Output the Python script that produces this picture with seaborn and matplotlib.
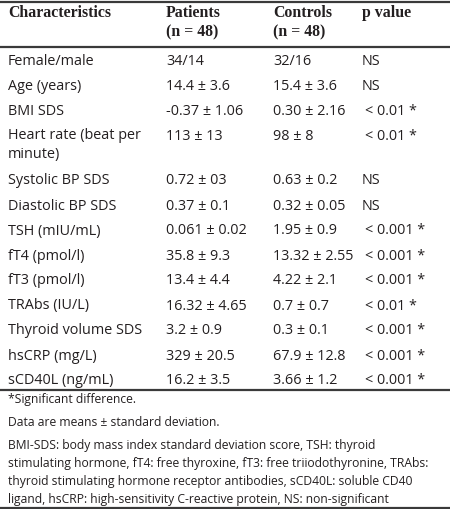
import matplotlib
matplotlib.use("Agg")
import seaborn as sns
from matplotlib import pyplot as plt

# table content
header = ["Characteristics", "Patients", "Controls", "p value"]
header_sub = ["", "(n = 48)", "(n = 48)", ""]
characteristics = ["Female/male", "Age (years)", "BMI SDS", "Heart rate (beat per\nminute)",
                   "Systolic BP SDS", "Diastolic BP SDS", "TSH (mIU/mL)", "fT4 (pmol/l)",
                   "fT3 (pmol/l)", "TRAbs (IU/L)", "Thyroid volume SDS", "hsCRP (mg/L)",
                   "sCD40L (ng/mL)"]
patients = ["34/14", "14.4 ± 3.6", "-0.37 ± 1.06", "113 ± 13", "0.72 ± 03", "0.37 ± 0.1",
            "0.061 ± 0.02", "35.8 ± 9.3", "13.4 ± 4.4", "16.32 ± 4.65", "3.2 ± 0.9",
            "329 ± 20.5", "16.2 ± 3.5"]
controls = ["32/16", "15.4 ± 3.6", "0.30 ± 2.16", "98 ± 8", "0.63 ± 0.2", "0.32 ± 0.05",
            "1.95 ± 0.9", "13.32 ± 2.55", "4.22 ± 2.1", "0.7 ± 0.7", "0.3 ± 0.1",
            "67.9 ± 12.8", "3.66 ± 1.2"]
p_values = ["NS", "NS", "< 0.01 *", "< 0.01 *", "NS", "NS", "< 0.001 *", "< 0.001 *",
            "< 0.001 *", "< 0.01 *", "< 0.001 *", "< 0.001 *", "< 0.001 *"]
footnotes = ["*Significant difference.",
             "Data are means ± standard deviation.",
             "BMI-SDS: body mass index standard deviation score, TSH: thyroid",
             "stimulating hormone, fT4: free thyroxine, fT3: free triiodothyronine, TRAbs:",
             "thyroid stimulating hormone receptor antibodies, sCD40L: soluble CD40",
             "ligand, hsCRP: high-sensitivity C-reactive protein, NS: non-significant"]

sns.set_theme(style="white")
plt.rcParams["font.family"] = ["Open Sans", "DejaVu Sans"]

W, H = 450, 509
fig = plt.figure(figsize=(W / 100, H / 100), dpi=100)
ax = fig.add_axes([0, 0, 1, 1])
ax.set_xlim(0, W)
ax.set_ylim(H, 0)
ax.axis("off")

col_x = [8, 166, 273, 362]
txt = "#231f20"
body_fs = 10.4
head_kw = dict(family=["Liberation Serif", "DejaVu Serif"], weight="bold",
               fontsize=11.4, color=txt, va="center")

for x, h, s in zip(col_x, header, header_sub):
    ax.text(x, 13, h, **head_kw)
    if s:
        ax.text(x, 32, s, **head_kw)

y = 61
for c, p, k, pv in zip(characteristics, patients, controls, p_values):
    two = "\n" in c
    ax.text(col_x[0], y + (9 if two else 0), c, fontsize=body_fs, color=txt,
            va="center", linespacing=1.3)
    ax.text(col_x[1], y, p, fontsize=body_fs, color=txt, va="center")
    ax.text(col_x[2], y, k, fontsize=body_fs, color=txt, va="center")
    ax.text(col_x[3] + (0 if pv == "NS" else 3), y, pv, fontsize=body_fs, color=txt,
            va="center")
    y += 45 if two else 25

foot_y = [400, 422, 445, 463, 482, 500]
for fy, f in zip(foot_y, footnotes):
    ax.text(col_x[0], fy, f, fontsize=8.7, color=txt, va="center")

line_kw = dict(color="#3a3a3a", linewidth=1.6)
for ly in [2, 47, 390, 507.5]:
    ax.axhline(ly, **line_kw)

fig.savefig("out.png", dpi=100)
